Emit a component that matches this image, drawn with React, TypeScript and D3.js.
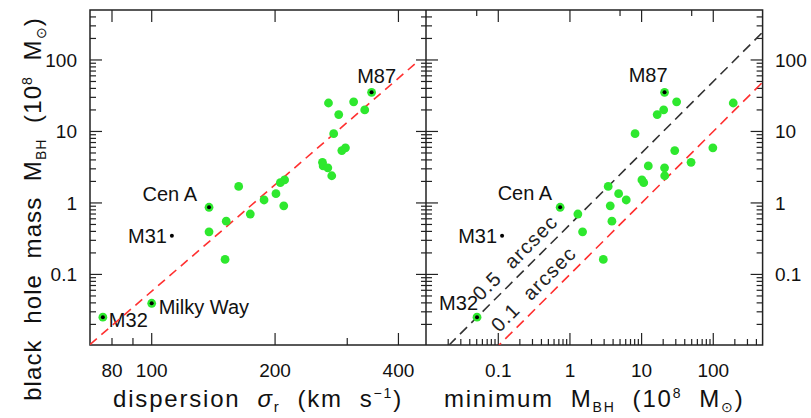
import React, { useEffect, useRef } from "react";
import * as d3 from "d3";

// galaxies with green dots (same order in both panels)
const sigma = [270, 311, 286, 331, 278, 291, 297, 261, 262, 269, 275, 163, 206, 211, 201, 188, 210, 152, 138, 151, 174];
const massBH = [25, 26, 17.2, 20, 9.3, 5.4, 5.9, 3.7, 3.3, 3.1, 2.4, 1.7, 1.92, 2.1, 1.35, 1.1, 0.91, 0.556, 0.395, 0.162, 0.7];
const minMass = [190, 30.8, 16.5, 20.3, 8.1, 29, 98.7, 49, 12.4, 20.9, 21, 3.42, 10.7, 10.1, 4.78, 6.1, 3.65, 3.85, 1.5, 2.92, 1.29];

// labelled galaxies
const namedGalaxies = ["M87", "Cen A", "M31", "Milky Way", "M32"];
const namedSigma = [344, 138, 112, 100, 76];
const namedMass = [35.3, 0.87, 0.347, 0.0395, 0.0252];
const namedMinMass = [20.9, 0.73, 0.113, null, 0.0505];
const namedHasRim = [true, true, false, true, true];

// tick labels
const sigmaTickLabels = [80, 100, 200, 400];
const massTickLabels = [0.1, 1, 10, 100];
const minMassTickLabels = [0.1, 1, 10, 100];

// M-sigma fit (left) and resolution limits (right)
const fitNorm = 1.8;
const fitSlope = 4.95;
const fitSigmaRange = [70.7, 450];
const arcsecLines = [
  { name: "0.5 arcsec", factor: 0.5, color: "#333", labelAt: 0.243 },
  { name: "0.1 arcsec", factor: 0.1, color: "#ff3030", labelAt: 0.44 },
];

const W = 811, H = 418;
const top = 10, bottom = 345;
const L0 = 90, mid = 426, R1 = 762.6;
const font = "'Liberation Sans', Arial, Helvetica, sans-serif";
const green = "#2ee82e";
const sp = "\u00A0\u00A0"; // wide gaps like the original

const App = () => {
  const ref = useRef<SVGSVGElement>(null);

  useEffect(() => {
    const svg = d3.select(ref.current);
    svg.selectAll("*").remove();

    const y = d3.scaleLog().domain([0.0103, 500]).range([bottom, top]);
    const xS = d3.scaleLog().domain([70.7, 467]).range([L0, mid]);
    const xM = d3.scaleLog().domain([0.0098, 488]).range([mid, R1]);

    const defs = svg.append("defs");
    defs.append("clipPath").attr("id", "clipL").append("rect")
      .attr("x", L0).attr("y", top).attr("width", mid - L0).attr("height", bottom - top);
    defs.append("clipPath").attr("id", "clipR").append("rect")
      .attr("x", mid).attr("y", top).attr("width", R1 - mid).attr("height", bottom - top);

    // minor log ticks inside the domains
    const yMinor: number[] = [];
    for (let d = -2; d <= 2; d++) for (let k = 2; k <= 9; k++) {
      const v = k * Math.pow(10, d);
      if (v > 0.0103 && v < 500) yMinor.push(v);
    }
    const xMinor: number[] = [];
    for (let d = -2; d <= 2; d++) for (let k = 2; k <= 9; k++) {
      const v = k * Math.pow(10, d);
      if (v > 0.0098 && v < 488) xMinor.push(v);
    }

    const ticks = svg.append("g").attr("stroke", "#222").attr("stroke-width", 1.2);
    const vTick = (x: number, dir: number, vals: number[], len: number) =>
      vals.forEach(v => ticks.append("line")
        .attr("x1", x).attr("x2", x + dir * len).attr("y1", y(v)).attr("y2", y(v)));
    const hTick = (sc: any, yy: number, dir: number, vals: number[], len: number) =>
      vals.forEach(v => ticks.append("line")
        .attr("x1", sc(v)).attr("x2", sc(v)).attr("y1", yy).attr("y2", yy + dir * len));

    // y ticks on the three vertical borders
    vTick(L0, 1, massTickLabels, 12); vTick(L0, 1, yMinor, 6);
    vTick(mid, -1, massTickLabels, 10); vTick(mid, -1, yMinor, 5);
    vTick(mid, 1, massTickLabels, 12); vTick(mid, 1, yMinor, 6);
    vTick(R1, -1, massTickLabels, 12); vTick(R1, -1, yMinor, 6);
    // left x ticks
    hTick(xS, bottom, -1, [100, 200, 400], 12);
    hTick(xS, bottom, -1, [80, 90, 300], 7);
    hTick(xS, top, 1, [80, 100, 200, 400], 12);
    // right x ticks
    hTick(xM, bottom, -1, minMassTickLabels, 12);
    hTick(xM, bottom, -1, xMinor, 6);
    hTick(xM, top, 1, [0.1, 1, 10, 100], 12);
    hTick(xM, top, 1, [0.05, 5, 50], 6);

    // frames
    svg.append("rect").attr("x", L0).attr("y", top).attr("width", R1 - L0).attr("height", bottom - top)
      .attr("fill", "none").attr("stroke", "#222").attr("stroke-width", 1.5);
    svg.append("line").attr("x1", mid).attr("x2", mid).attr("y1", top).attr("y2", bottom)
      .attr("stroke", "#222").attr("stroke-width", 1.5);

    // tick labels
    const lab = svg.append("g").attr("font-family", font).attr("font-size", 19).attr("fill", "#111");
    sigmaTickLabels.forEach(v => lab.append("text").attr("x", xS(v)).attr("y", 377)
      .attr("text-anchor", "middle").text(String(v)));
    minMassTickLabels.forEach(v => lab.append("text").attr("x", xM(v)).attr("y", 377)
      .attr("text-anchor", "middle").text(String(v)));
    massTickLabels.forEach(v => {
      lab.append("text").attr("x", 77).attr("y", y(v)).attr("dy", "0.35em")
        .attr("text-anchor", "end").text(String(v));
      lab.append("text").attr("x", 775).attr("y", y(v)).attr("dy", "0.35em")
        .attr("text-anchor", "start").text(String(v));
    });

    // lines
    const line = d3.line<[number, number]>();
    svg.append("path").attr("clip-path", "url(#clipL)")
      .attr("d", line(fitSigmaRange.map(s => [xS(s), y(fitNorm * Math.pow(s / 200, fitSlope))])))
      .attr("fill", "none").attr("stroke", "#ff3030").attr("stroke-width", 1.6).attr("stroke-dasharray", "9,6");
    arcsecLines.forEach(a => {
      svg.append("path").attr("clip-path", "url(#clipR)")
        .attr("d", line(xM.domain().map(m => [xM(m), y(a.factor * m)])))
        .attr("fill", "none").attr("stroke", a.color).attr("stroke-width", 1.6).attr("stroke-dasharray", "10,6");
      const px = xM(a.labelAt) - 6, py = y(a.factor * a.labelAt) - 6;
      lab.append("text").attr("transform", `translate(${px},${py}) rotate(-45)`)
        .attr("text-anchor", "middle").attr("font-size", 20).attr("letter-spacing", 1.2).attr("fill", "#222")
        .text(a.name.replace(" ", sp));
    });

    // points
    const dots = (g: any, xs: number[], sc: any) =>
      xs.forEach((v, i) => g.append("circle").attr("cx", sc(v)).attr("cy", y(massBH[i]))
        .attr("r", 4.4).attr("fill", green));
    dots(svg.append("g"), sigma, xS);
    dots(svg.append("g"), minMass, xM);

    const leftOff: Record<string, [number, number, string]> = {
      "M87": [5, -9, "middle"], "Cen A": [-12, -6, "end"], "M31": [-5, 7, "end"],
      "Milky Way": [7, 11, "start"], "M32": [6, 10, "start"],
    };
    const rightOff: Record<string, [number, number, string]> = {
      "M87": [3, -10, "end"], "Cen A": [-8, -7, "end"], "M31": [-5, 7, "end"], "M32": [1, -7, "end"],
    };
    namedGalaxies.forEach((n, i) => {
      const panels: [number | null, any, Record<string, [number, number, string]>][] = [
        [namedSigma[i], xS, leftOff], [namedMinMass[i], xM, rightOff]];
      panels.forEach(([xv, sc, off]) => {
        if (xv == null) return;
        const cx = sc(xv), cy = y(namedMass[i]);
        if (namedHasRim[i]) svg.append("circle").attr("cx", cx).attr("cy", cy).attr("r", 4.4).attr("fill", green);
        svg.append("circle").attr("cx", cx).attr("cy", cy).attr("r", 2).attr("fill", "#000");
        const o = off[n];
        lab.append("text").attr("x", cx + o[0]).attr("y", cy + o[1]).attr("text-anchor", o[2])
          .attr("font-size", 20).text(n);
      });
    });

    // axis titles
    const title = svg.append("g").attr("font-family", font).attr("font-size", 24).attr("fill", "#111");
    const t1 = title.append("text").attr("x", (L0 + mid) / 2).attr("y", 407).attr("text-anchor", "middle")
      .attr("letter-spacing", 1.8);
    t1.append("tspan").text("dispersion" + sp);
    t1.append("tspan").attr("font-style", "italic").text("σ");
    t1.append("tspan").attr("dy", 5).attr("font-size", 15).text("r");
    t1.append("tspan").attr("dy", -5).text(sp + "(km" + sp + "s");
    t1.append("tspan").attr("dy", -9).attr("font-size", 14).text("−1");
    t1.append("tspan").attr("dy", 9).text(")");

    const massTitle = (t: any, lead: string) => {
      t.append("tspan").text(lead + "M");
      t.append("tspan").attr("dy", 5).attr("font-size", 14).text("BH");
      t.append("tspan").attr("dy", -5).text(sp + "(10");
      t.append("tspan").attr("dy", -9).attr("font-size", 14).text("8");
      t.append("tspan").attr("dy", 9).text(sp + "M");
      t.append("tspan").attr("dy", 5).attr("font-size", 14).text("⊙");
      t.append("tspan").attr("dy", -5).text(")");
    };
    const t2 = title.append("text").attr("x", (mid + R1) / 2).attr("y", 407).attr("text-anchor", "middle")
      .attr("letter-spacing", 1.8);
    massTitle(t2, "minimum" + sp);
    const t3 = title.append("text").attr("transform", `translate(41,${209}) rotate(-90)`)
      .attr("text-anchor", "middle").attr("letter-spacing", 1.1);
    massTitle(t3, "black" + sp + "hole" + sp + "mass" + sp);
  }, []);

  return (
    <svg ref={ref} width={W} height={H} style={{ position: "absolute", left: 0, top: 0, background: "#fff" }} />
  );
};

export default App;
